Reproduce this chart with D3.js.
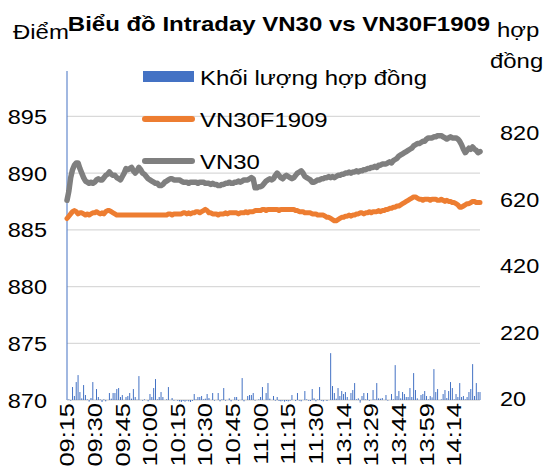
<!DOCTYPE html>
<html>
<head>
<meta charset="utf-8">
<script src="https://cdn.jsdelivr.net/npm/d3@7"></script>
<style>
  body { margin: 0; background: #fff; }
  text { font-family: "Liberation Sans", Arial, sans-serif; fill: #000; }
</style>
</head>
<body>
<svg id="chart" width="550" height="469"></svg>
<script>
// minute categories: morning 09:15-11:30, afternoon 13:00-14:28
var sessions = [["09:15", "11:30"], ["13:00", "14:28"]];
var tickLabels = ["09:15", "09:30", "09:45", "10:00", "10:15", "10:30", "10:45", "11:00",
                  "11:15", "11:30", "13:14", "13:29", "13:44", "13:59", "14:14"];

var vn30 = [
  887.6, 888.4, 889.6, 890.3, 890.7, 890.9, 890.9, 890.4, 890.0, 889.6, 889.3, 889.2, 889.1, 889.2, 889.1,
  889.2, 889.4, 889.5, 889.4, 889.4, 889.6, 889.8, 889.9, 890.1, 889.9, 889.8, 889.8, 889.6, 889.5, 889.4,
  889.7, 890.0, 890.4, 890.3, 890.4, 890.5, 890.2, 890.0, 890.2, 890.5, 890.3, 890.0, 889.9, 889.7, 889.5,
  889.4, 889.3, 889.2, 889.1, 889.1, 888.9, 888.9, 889.0, 889.2, 889.3, 889.4, 889.5, 889.5, 889.4, 889.4,
  889.4, 889.4, 889.3, 889.2, 889.2, 889.2, 889.1, 889.2, 889.2, 889.2, 889.2, 889.1, 889.2, 889.2, 889.2,
  889.1, 889.1, 889.1, 889.0, 889.1, 889.0, 889.0, 888.9, 888.9, 889.0, 889.0, 889.1, 889.1, 889.2, 889.1,
  889.1, 889.2, 889.2, 889.3, 889.2, 889.3, 889.4, 889.4, 889.4, 889.5, 889.6, 889.5, 888.7, 888.7, 888.8,
  888.8, 888.9, 889.1, 889.3, 889.4, 889.5, 889.4, 889.5, 889.8, 890.0, 889.8, 889.6, 889.5, 889.7, 889.8,
  889.7, 889.6, 889.5, 889.6, 889.8, 890.0, 890.1, 890.2, 890.0, 889.7, 889.6, 889.5, 889.4, 889.2, 889.2,
  889.3, 889.4, 889.4, 889.5, 889.5, 889.6, 889.6, 889.7, 889.6, 889.7, 889.6, 889.7, 889.8, 889.8, 889.9,
  889.9, 890.0, 890.0, 890.1, 890.0, 890.1, 890.1, 890.2, 890.1, 890.2, 890.2, 890.3, 890.3, 890.4, 890.4,
  890.5, 890.5, 890.6, 890.5, 890.7, 890.7, 890.8, 890.8, 890.8, 890.9, 891.0, 890.9, 891.1, 891.2, 891.3,
  891.5, 891.6, 891.7, 891.8, 891.9, 892.0, 892.1, 892.2, 892.4, 892.5, 892.6, 892.6, 892.7, 892.8, 892.8,
  893.0, 893.1, 893.1, 893.1, 893.2, 893.2, 893.3, 893.3, 893.3, 893.2, 893.1, 893.0, 893.1, 893.2, 893.1,
  893.1, 893.1, 893.0, 892.8, 892.5, 892.1, 891.8, 892.0, 892.2, 892.1, 892.3, 892.1, 892.0, 891.8, 891.9
];

var vn30f = [
  886.0, 886.2, 886.4, 886.6, 886.7, 886.6, 886.4, 886.5, 886.5, 886.4, 886.3, 886.4, 886.3, 886.4, 886.5,
  886.5, 886.6, 886.5, 886.4, 886.5, 886.4, 886.6, 886.7, 886.7, 886.6, 886.5, 886.4, 886.3, 886.3, 886.3,
  886.3, 886.3, 886.3, 886.3, 886.3, 886.3, 886.3, 886.3, 886.3, 886.3, 886.3, 886.3, 886.3, 886.3, 886.3,
  886.3, 886.3, 886.3, 886.3, 886.3, 886.3, 886.3, 886.3, 886.3, 886.3, 886.4, 886.4, 886.3, 886.4, 886.4,
  886.4, 886.4, 886.4, 886.5, 886.5, 886.4, 886.5, 886.4, 886.5, 886.5, 886.6, 886.6, 886.5, 886.6, 886.7,
  886.8, 886.7, 886.5, 886.5, 886.4, 886.4, 886.4, 886.3, 886.4, 886.4, 886.4, 886.5, 886.4, 886.5, 886.5,
  886.5, 886.5, 886.5, 886.4, 886.5, 886.5, 886.5, 886.6, 886.5, 886.6, 886.6, 886.6, 886.7, 886.7, 886.7,
  886.7, 886.8, 886.8, 886.7, 886.8, 886.8, 886.8, 886.8, 886.8, 886.8, 886.7, 886.8, 886.8, 886.8, 886.8,
  886.8, 886.8, 886.8, 886.8, 886.7, 886.7, 886.6, 886.6, 886.6, 886.5, 886.5, 886.5, 886.5, 886.4, 886.4,
  886.4, 886.3, 886.3, 886.3, 886.3, 886.2, 886.1, 886.1, 886.0, 885.9, 885.8, 885.8, 885.9, 886.0, 886.1,
  886.1, 886.2, 886.2, 886.3, 886.2, 886.3, 886.3, 886.4, 886.4, 886.5, 886.5, 886.4, 886.5, 886.5, 886.6,
  886.5, 886.6, 886.6, 886.6, 886.7, 886.6, 886.7, 886.7, 886.8, 886.8, 886.9, 886.9, 887.0, 887.0, 887.1,
  887.1, 887.2, 887.3, 887.4, 887.5, 887.6, 887.7, 887.8, 887.9, 887.9, 887.8, 887.7, 887.7, 887.6, 887.7,
  887.7, 887.7, 887.6, 887.7, 887.7, 887.7, 887.6, 887.6, 887.7, 887.6, 887.5, 887.6, 887.5, 887.5, 887.4,
  887.4, 887.3, 887.2, 887.0, 887.0, 887.1, 887.2, 887.3, 887.3, 887.4, 887.5, 887.5, 887.4, 887.4, 887.4
];

var volume = [
  1010, 22, 18, 59, 32, 74, 95, 44, 25, 65, 35, 22, 15, 26, 74,
  20, 53, 29, 22, 14, 22, 16, 20, 41, 24, 41, 41, 53, 56, 29,
  35, 20, 29, 32, 41, 24, 53, 29, 21, 92, 20, 18, 22, 20, 16,
  38, 29, 56, 83, 22, 29, 44, 29, 20, 22, 59, 20, 26, 18, 20,
  18, 16, 14, 17, 15, 18, 16, 14, 17, 38, 22, 29, 29, 32, 22,
  24, 38, 26, 20, 41, 18, 20, 41, 16, 22, 56, 18, 20, 25, 16,
  20, 29, 29, 18, 20, 86, 16, 20, 32, 35, 35, 41, 18, 20, 22,
  29, 59, 20, 41, 71, 24, 20, 32, 18, 29, 17, 16, 18, 15, 17,
  16, 18, 35, 20, 17, 41, 18, 16, 20, 47, 22, 18, 17, 53, 25,
  16, 22, 59, 18, 16, 20, 17, 20, 161, 62, 41, 24, 56, 32, 47,
  38, 44, 29, 20, 41, 50, 71, 22, 25, 12, 32, 41, 22, 41, 18,
  20, 50, 22, 71, 25, 24, 26, 20, 35, 18, 20, 38, 22, 125, 32,
  47, 25, 44, 38, 29, 29, 56, 29, 101, 50, 25, 20, 35, 38, 47,
  32, 22, 32, 28, 113, 44, 53, 20, 22, 38, 50, 26, 47, 74, 56,
  22, 38, 29, 71, 29, 32, 22, 29, 44, 53, 128, 32, 71, 44, 44
];

var leftTicks = [870, 875, 880, 885, 890, 895];
var rightTicks = [20, 220, 420, 620, 820];

var times = [];
sessions.forEach(function(s) {
  var a = s[0].split(":"), b = s[1].split(":");
  for (var m = +a[0] * 60 + +a[1]; m <= +b[0] * 60 + +b[1]; m++) {
    times.push(d3.format("02")(Math.floor(m / 60)) + ":" + d3.format("02")(m % 60));
  }
});

var svg = d3.select("#chart"),
    plotLeft = 67, plotRight = 480, plotTop = 71, plotBottom = 400;

var x = d3.scalePoint().domain(times).range([plotLeft, plotRight]);
var y = d3.scaleLinear().domain([870, 899]).range([plotBottom, plotTop]);
var y2 = d3.scaleLinear().domain([20, 1010]).range([plotBottom, plotTop]);

// stretched text helper (the source picture is a bit wider than tall)
function label(g, str, tx, ty, size, sx, anchor, weight) {
  return g.append("text")
      .attr("transform", "translate(" + tx + "," + ty + ") scale(" + sx + ",1)")
      .attr("text-anchor", anchor || "start")
      .attr("font-size", size)
      .attr("font-weight", weight || "normal")
      .text(str);
}

// gridlines
svg.append("g")
  .selectAll("line")
  .data(leftTicks)
  .enter().append("line")
    .attr("x1", plotLeft).attr("x2", plotRight)
    .attr("y1", y).attr("y2", y)
    .attr("stroke", "#d9d9d9")
    .attr("stroke-width", 1.3);

// volume bars (drawn from the axis floor of 20)
svg.append("g")
    .attr("fill", "#4472c4")
  .selectAll("rect")
  .data(volume)
  .enter().append("rect")
    .attr("x", function(d, i) { return x(times[i]) - 0.5; })
    .attr("width", 1)
    .attr("y", function(d) { return Math.min(y2(d), y2(20)); })
    .attr("height", function(d) { return Math.abs(y2(20) - y2(d)); });

var line = d3.line()
    .x(function(d, i) { return x(times[i]); })
    .y(function(d) { return y(d); });

svg.append("path")
    .datum(vn30f)
    .attr("fill", "none")
    .attr("stroke", "#ed7d31")
    .attr("stroke-width", 5)
    .attr("stroke-linejoin", "round")
    .attr("stroke-linecap", "round")
    .attr("d", line);

svg.append("path")
    .datum(vn30)
    .attr("fill", "none")
    .attr("stroke", "#7f7f7f")
    .attr("stroke-width", 5.5)
    .attr("stroke-linejoin", "round")
    .attr("stroke-linecap", "round")
    .attr("d", line);

// left axis labels
var yAxis = svg.append("g");
leftTicks.forEach(function(t) {
  label(yAxis, t, 47, y(t), 21, 1.12, "end").attr("dy", "0.36em");
});

// right axis labels
var yAxis2 = svg.append("g");
rightTicks.forEach(function(t) {
  label(yAxis2, t, 500, y2(t), 21, 1.12, "start").attr("dy", "0.3em");
});

// category labels, vertical
var xAxis = svg.append("g");
tickLabels.forEach(function(t) {
  xAxis.append("text")
      .attr("transform", "translate(" + x(t) + ",403) rotate(-90) scale(1.27,1)")
      .attr("text-anchor", "end")
      .attr("dy", "0.36em")
      .attr("font-size", 20)
      .text(t);
});

// titles
label(svg, "Biểu đồ Intraday VN30 vs VN30F1909", 279, 31, 20.5, 1.17, "middle", "bold");
label(svg, "Điểm", 13, 39, 21, 1.14, "start");
label(svg, "hợp", 497, 37, 21, 1.14, "start");
label(svg, "đồng", 490, 68, 21, 1.14, "start");

// legend
var legend = svg.append("g");
legend.append("rect")
    .attr("x", 143).attr("y", 71)
    .attr("width", 51).attr("height", 11)
    .attr("fill", "#4472c4");
legend.append("line")
    .attr("x1", 145).attr("x2", 192)
    .attr("y1", 119).attr("y2", 119)
    .attr("stroke", "#ed7d31").attr("stroke-width", 6)
    .attr("stroke-linecap", "round");
legend.append("line")
    .attr("x1", 145).attr("x2", 192)
    .attr("y1", 161).attr("y2", 161)
    .attr("stroke", "#7f7f7f").attr("stroke-width", 6)
    .attr("stroke-linecap", "round");
label(legend, "Khối lượng hợp đồng", 200, 77, 21, 1.14, "start").attr("dy", "0.36em");
label(legend, "VN30F1909", 200, 119, 21, 1.14, "start").attr("dy", "0.36em");
label(legend, "VN30", 200, 161, 21, 1.14, "start").attr("dy", "0.36em");
</script>
</body>
</html>
